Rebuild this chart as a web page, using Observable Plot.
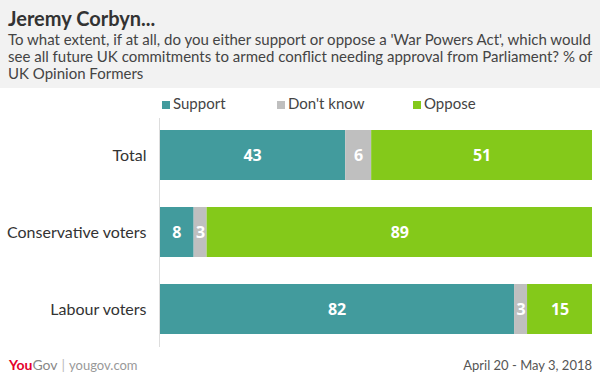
<!DOCTYPE html>
<html><head><meta charset="utf-8">
<script src="https://cdn.jsdelivr.net/npm/d3@7"></script>
<script src="https://cdn.jsdelivr.net/npm/@observablehq/plot@0.6"></script>
<style>
html,body{margin:0;padding:0;background:#fff;width:600px;height:381px;overflow:hidden;font-family:Lato,"Open Sans",sans-serif;}
#header{background:#f2f2f2;height:88px;padding:0 8px;box-sizing:border-box;position:relative;}
#title{position:absolute;left:8px;top:6px;font-size:20px;font-weight:bold;color:#333;}
#sub{position:absolute;left:8px;top:31px;white-space:nowrap;font-size:15px;line-height:17px;color:#444;}
#legend{position:relative;height:28px;font-size:15px;color:#444;}
.li{position:absolute;top:6px;white-space:nowrap;}
.sw{display:inline-block;width:8px;height:8px;margin-right:3px;vertical-align:0px;}
#chart{position:absolute;top:116px;left:0;}
#footer{position:absolute;top:352px;left:0;width:600px;height:29px;}
#logo{position:absolute;left:9px;top:4px;font-size:14px;}
#date{position:absolute;right:8px;top:5px;font-size:13px;color:#555;}
</style></head>
<body>
<div id="header"><div id="title">Jeremy Corbyn...</div>
<div id="sub">To what extent, if at all, do you either support or oppose a 'War Powers Act', which would<br>see all future UK commitments to armed conflict needing approval from Parliament? % of<br>UK Opinion Formers</div></div>
<div id="legend"></div>
<div id="chart"></div>
<div id="footer"><div id="logo"><span style="color:#e4002b;font-weight:bold;">You</span><span style="color:#888;">Gov</span><span style="color:#bbb;margin:0 4px;">|</span><span style="color:#999;font-size:13px;">yougov.com</span></div><div id="date">April 20 - May 3, 2018</div></div>
<script>
const categories = ["Total", "Conservative voters", "Labour voters"];
const seriesNames = ["Support", "Don't know", "Oppose"];
const support = [43, 8, 82];
const dontKnow = [6, 3, 3];
const oppose = [51, 89, 15];
const colors = ["#429b9d", "#bfbfbf", "#84c91a"];
const legendX = [162, 277, 413];

const values = [support, dontKnow, oppose];
const data = [];
categories.forEach((c, i) => seriesNames.forEach((s, j) => data.push({cat: c, series: s, value: values[j][i]})));

const leg = document.getElementById("legend");
seriesNames.forEach((s, j) => {
  const d = document.createElement("div");
  d.className = "li"; d.style.left = legendX[j] + "px";
  d.innerHTML = `<span class="sw" style="background:${colors[j]}"></span>${s}`;
  leg.appendChild(d);
});

const chart = Plot.plot({
  width: 600, height: 234,
  marginLeft: 159, marginRight: 8, marginTop: 14, marginBottom: 15,
  style: {fontFamily: "Lato, 'Open Sans', sans-serif", fontSize: "16px", color: "#333", background: "transparent"},
  x: {domain: [0, 100], axis: null},
  y: {domain: categories, padding: 0.35, paddingOuter: 0, label: null, tickSize: 0, tickPadding: 13},
  color: {domain: seriesNames, range: colors},
  marks: [
    Plot.barX(data, Plot.stackX({x: "value", y: "cat", fill: "series", z: "series", order: seriesNames})),
    Plot.text(data, Plot.stackX({x: "value", y: "cat", z: "series", text: d => String(d.value), order: seriesNames, fill: "white", fontWeight: "bold", fontSize: 16, fontFamily: "'Open Sans', sans-serif"})),
    Plot.ruleX([0], {stroke: "#ddd", insetTop: -12, insetBottom: -12})
  ]
});
document.getElementById("chart").appendChild(chart);
</script>
</body></html>
